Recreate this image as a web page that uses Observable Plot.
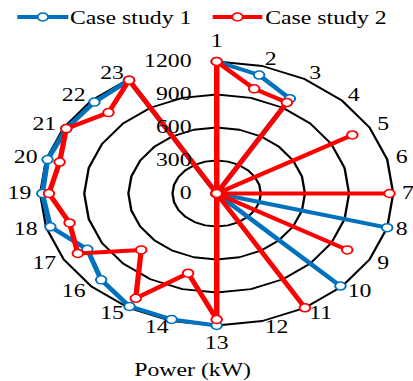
<!DOCTYPE html>
<html>
<head>
<meta charset="utf-8">
<script src="https://cdn.jsdelivr.net/npm/d3@7"></script>
<script src="https://cdn.jsdelivr.net/npm/@observablehq/plot@0.6"></script>
<style>
  html, body { margin: 0; padding: 0; background: white; }
  #wrap { position: relative; width: 313px; height: 381px; transform: scaleX(1.3195); transform-origin: 0 0; font-family: "Liberation Serif", "Times New Roman", serif; }
  .leg { position: absolute; font-size: 18px; line-height: 18px; white-space: nowrap; color: black; }
  .sw { position: absolute; }
  #chart { position: absolute; left: 0; top: 28px; }
  #caption { position: absolute; left: 46px; width: 200px; top: 361px; text-align: center; font-size: 18px; line-height: 18px; }
</style>
</head>
<body>
<div id="wrap">
  <svg class="sw" style="left:12.9px;top:9.7px" width="39" height="14"><line x1="0" x2="39" y1="7" y2="7" stroke="#0072BD" stroke-width="4"/><circle cx="19.5" cy="7" r="4" fill="white" stroke="#0072BD" stroke-width="1.5"/></svg>
  <span class="leg" style="left:53px;top:9px">Case study 1</span>
  <svg class="sw" style="left:161.4px;top:9.7px" width="38" height="14"><line x1="0" x2="38" y1="7" y2="7" stroke="#FF0000" stroke-width="4"/><circle cx="19" cy="7" r="4" fill="white" stroke="#FF0000" stroke-width="1.5"/></svg>
  <span class="leg" style="left:201px;top:9px">Case study 2</span>
  <div id="chart"></div>
  <div id="caption">Power (kW)</div>
</div>
<script>
// ---- data ----
const hours = [1,2,3,4,5,6,7,8,9,10,11,12,13,14,15,16,17,18,19,20,21,22,23,24];
const case1 = [1200,1115,995,0,0,0,0,1200,0,1190,0,0,1200,1185,1185,1110,1015,1170,1185,1190,1180,1175,1190,0];
const case2 = [1200,985,955,0,1065,0,1175,0,1025,0,1200,0,1145,750,1100,725,1090,1035,1140,1105,1180,1040,1190,0];
const ringTicks = [300,600,900,1200];
const radialLabels = [0,300,600,900,1200];
const spokeLabels = ["1","2","3","4","5","6","7","8","9","10","11","12","13","14","15","16","17","18","19","20","21","22","23"];

// ---- geometry helpers ----
const ang = h => (h - 1) * Math.PI / 12;
const toPts = vals => hours.map((h, i) => ({h, x: vals[i] * Math.sin(ang(h)), y: vals[i] * Math.cos(ang(h))}));
const pts1 = toPts(case1), pts2 = toPts(case2);
const loop1 = pts1.concat([pts1[0]]), loop2 = pts2.concat([pts2[0]]);

const rings = [];
for (const t of ringTicks) {
  const hs = t === 1200 ? hours.slice(0, 23) : hours.concat([hours[0]]);
  for (const h of hs) rings.push({t, x: t * Math.sin(ang(h)), y: t * Math.cos(ang(h))});
}

const maxR = 1200;
const labF = 1.05;
const labs = spokeLabels.map((s, i) => {
  const a = ang(i + 1);
  return {s, h: i + 1, x: labF * maxR * Math.sin(a), y: labF * maxR * Math.cos(a), sin: Math.sin(a)};
});

const W = 313, H = 330, cx = 163.7, cy = 165, Rx = 133.8, Ry = 132;
const blue = "#0072BD", red = "#FF0000";
const font = {fontFamily: "Liberation Serif", fontSize: 18, fill: "black"};

const chart = Plot.plot({
  width: W, height: H,
  marginTop: 0, marginRight: 0, marginBottom: 0, marginLeft: 0,
  x: {domain: [-maxR, maxR], range: [cx - Rx, cx + Rx], axis: null},
  y: {domain: [-maxR, maxR], range: [cy + Ry, cy - Ry], axis: null},
  style: {background: "white", overflow: "visible"},
  marks: [
    Plot.line(rings, {x: "x", y: "y", z: "t", stroke: "black", strokeWidth: 1.8, curve: "linear", strokeLinejoin: "miter"}),
    Plot.line(loop1, {x: "x", y: "y", stroke: blue, strokeWidth: 4, curve: "linear"}),
    Plot.dot(pts1, {x: "x", y: "y", r: 4, fill: "white", stroke: blue, strokeWidth: 1.5}),
    Plot.line(loop2, {x: "x", y: "y", stroke: red, strokeWidth: 4, curve: "linear"}),
    Plot.dot(pts2, {x: "x", y: "y", r: 4, fill: "white", stroke: red, strokeWidth: 1.5}),
    Plot.text(radialLabels, {x: () => 0, y: d => d, text: d => String(d), textAnchor: "end", dx: -19, ...font}),
    Plot.text(labs.filter(d => d.sin > 0.01), {x: "x", y: "y", text: "s", textAnchor: "start", ...font}),
    Plot.text(labs.filter(d => d.sin < -0.01), {x: "x", y: "y", text: "s", textAnchor: "end", ...font}),
    Plot.text(labs.filter(d => d.h === 1), {x: "x", y: "y", text: "s", textAnchor: "middle", dy: -14, ...font}),
    Plot.text(labs.filter(d => d.h === 13), {x: "x", y: "y", text: "s", textAnchor: "middle", dy: 11, ...font})
  ]
});
document.getElementById("chart").appendChild(chart);
</script>
</body>
</html>
